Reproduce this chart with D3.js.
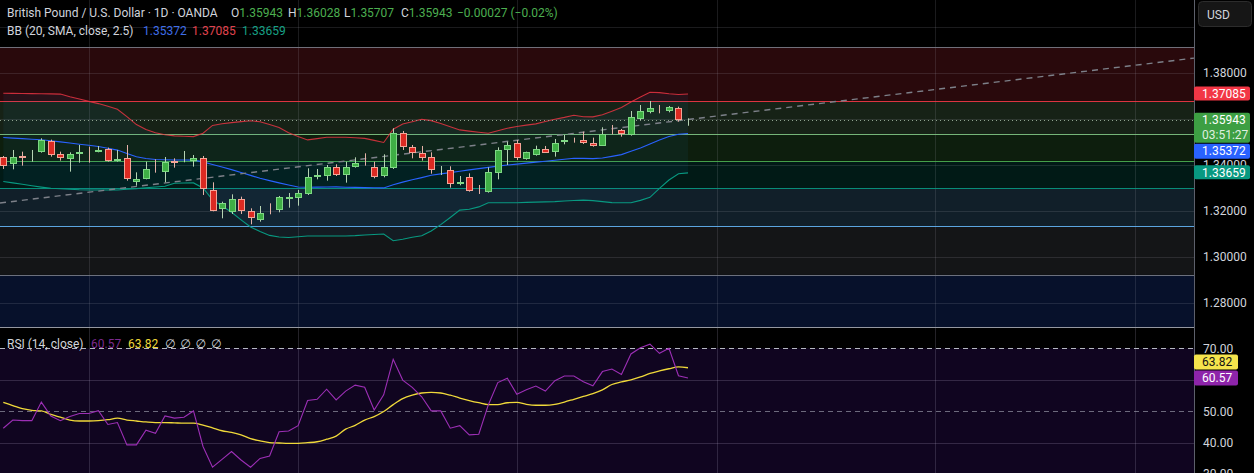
<!DOCTYPE html>
<html>
<head>
<meta charset="utf-8">
<script src="https://cdn.jsdelivr.net/npm/d3@7"></script>
<style>
    html, body { margin: 0; padding: 0; background: #000; }
    svg { display: block; font-family: Roboto, "Noto Sans", "DejaVu Sans", sans-serif; }
</style>
</head>
<body>
<svg id="chart" width="1254" height="473"></svg>
<script>
// ---- daily candles (GBP/USD, OANDA)
const opens = [1.34334,1.34030,1.34392,1.34290,1.34580,1.35044,1.34464,1.34247,1.34464,1.34609,
    1.34580,1.34696,1.34189,1.34290,1.33276,1.33406,1.33740,1.33711,1.34174,1.34131,
    1.34189,1.34290,1.32899,1.32073,1.31943,1.32508,1.31986,1.31609,1.32001,1.32044,
    1.32508,1.32580,1.32740,1.33464,1.33508,1.33899,1.33551,1.33928,1.34088,1.33899,
    1.33537,1.33856,1.35377,1.34798,1.34508,1.34334,1.33740,1.33769,1.33160,1.33464,
    1.32928,1.32841,1.33667,1.34653,1.34943,1.34261,1.34435,1.34696,1.34551,1.34986,
    1.35102,1.35088,1.34943,1.34841,1.35421,1.35522,1.35305,1.36001,1.36290,1.36392,
    1.36348,1.36493,1.35943];
const highs = [1.34392,1.34653,1.34580,1.34653,1.35160,1.35102,1.34580,1.34551,1.34870,1.34798,
    1.34827,1.34754,1.34653,1.34870,1.33682,1.34145,1.34247,1.34348,1.34290,1.34609,
    1.34435,1.34392,1.33247,1.32406,1.32725,1.32624,1.32117,1.32218,1.32334,1.32653,
    1.32783,1.32914,1.33856,1.33827,1.34001,1.34030,1.34145,1.34334,1.34508,1.34145,
    1.34464,1.35595,1.35479,1.34870,1.34827,1.34551,1.33957,1.33943,1.33522,1.33638,
    1.33131,1.33899,1.34769,1.35015,1.35088,1.34580,1.34841,1.34827,1.35131,1.35305,
    1.35189,1.35450,1.35189,1.35638,1.35740,1.35566,1.36348,1.36609,1.36783,1.36609,
    1.36566,1.36537,1.36028];
const lows = [1.33827,1.33812,1.33972,1.34145,1.34537,1.34363,1.34189,1.33711,1.34102,1.34102,
    1.34551,1.34145,1.34145,1.33319,1.33102,1.33377,1.33667,1.33247,1.33885,1.34117,
    1.33928,1.32696,1.31986,1.31682,1.31870,1.31870,1.31421,1.31537,1.31856,1.31943,
    1.32145,1.32232,1.32696,1.33377,1.33319,1.33522,1.33232,1.33885,1.33972,1.33421,
    1.33464,1.33827,1.34653,1.34290,1.34189,1.33624,1.33566,1.33015,1.33117,1.32841,
    1.32740,1.32798,1.33377,1.34001,1.34218,1.34232,1.34406,1.34522,1.34363,1.34899,
    1.34972,1.34914,1.34798,1.34827,1.35334,1.35232,1.35276,1.35957,1.36247,1.36247,
    1.36290,1.35885,1.35707];
const closes = [1.33943,1.34334,1.34290,1.34348,1.35102,1.34435,1.34290,1.34479,1.34551,1.34580,
    1.34653,1.34174,1.34261,1.33377,1.33392,1.33827,1.33682,1.34145,1.34073,1.34145,
    1.34305,1.32943,1.32015,1.32348,1.32508,1.32015,1.31682,1.31914,1.31972,1.32595,
    1.32609,1.32769,1.33464,1.33566,1.33914,1.33566,1.33914,1.34073,1.34059,1.33464,
    1.33914,1.35377,1.34798,1.34508,1.34290,1.33769,1.33754,1.33160,1.33247,1.32885,
    1.32899,1.33682,1.34653,1.34870,1.34319,1.34551,1.34696,1.34537,1.34943,1.35088,
    1.35088,1.34943,1.34841,1.35334,1.35406,1.35334,1.36073,1.36348,1.36464,1.36363,
    1.36522,1.35970,1.35943];

// ---- Bollinger Bands (20, SMA, close, 2.5)
const bbUpper = [1.37117,1.37113,1.37109,1.37104,1.37096,1.37091,1.37083,1.36970,1.36870,1.36765,
    1.36670,1.36552,1.36426,1.36104,1.35757,1.35539,1.35400,1.35317,1.35265,1.35248,
    1.35235,1.35383,1.35722,1.35791,1.35844,1.35887,1.35922,1.35883,1.35765,1.35635,
    1.35404,1.35235,1.35091,1.35148,1.35204,1.35204,1.35204,1.35187,1.35157,1.35070,
    1.34978,1.35557,1.35783,1.35883,1.35987,1.35930,1.35800,1.35665,1.35526,1.35474,
    1.35426,1.35383,1.35491,1.35596,1.35674,1.35735,1.35787,1.35891,1.35991,1.36070,
    1.36161,1.36096,1.36091,1.36187,1.36339,1.36500,1.36739,1.36957,1.37161,1.37148,
    1.37100,1.37065,1.37085];
const bbBasis = [1.35196,1.35170,1.35148,1.35122,1.35096,1.35052,1.35004,1.34957,1.34904,1.34857,
    1.34804,1.34730,1.34648,1.34504,1.34361,1.34283,1.34239,1.34226,1.34217,1.34217,
    1.34213,1.34135,1.34022,1.33917,1.33800,1.33674,1.33548,1.33422,1.33322,1.33222,
    1.33130,1.33043,1.33035,1.33039,1.33043,1.33048,1.33035,1.33026,1.33017,1.33009,
    1.33004,1.33139,1.33256,1.33356,1.33452,1.33557,1.33613,1.33670,1.33730,1.33787,
    1.33843,1.33896,1.33952,1.34000,1.34039,1.34083,1.34126,1.34165,1.34209,1.34252,
    1.34291,1.34287,1.34278,1.34304,1.34374,1.34452,1.34600,1.34735,1.34909,1.35087,
    1.35239,1.35339,1.35372];
const bbLower = [1.33283,1.33222,1.33161,1.33100,1.33039,1.32987,1.32965,1.32943,1.32922,1.32913,
    1.32913,1.32913,1.32913,1.32943,1.32974,1.33009,1.33043,1.33078,1.33204,1.33217,
    1.33222,1.33004,1.32487,1.32217,1.31943,1.31617,1.31304,1.31109,1.30939,1.30870,
    1.30848,1.30883,1.30913,1.30913,1.30913,1.30913,1.30913,1.30930,1.30957,1.30978,
    1.31000,1.30709,1.30774,1.30857,1.30926,1.31130,1.31409,1.31717,1.32039,1.32078,
    1.32178,1.32361,1.32361,1.32361,1.32361,1.32374,1.32387,1.32396,1.32409,1.32435,
    1.32457,1.32474,1.32452,1.32409,1.32365,1.32361,1.32361,1.32461,1.32596,1.32983,
    1.33348,1.33617,1.33659];

// ---- RSI (14, close) and its moving average
const rsiValues = [44.6,47.2,47.0,47.0,52.9,48.5,47.0,48.3,49.3,49.3,
    50.2,45.8,46.4,39.3,39.3,44.0,43.0,48.5,47.8,48.1,
    50.1,38.8,32.2,34.7,37.2,34.5,32.2,35.0,35.8,43.5,
    43.7,45.4,53.4,53.8,57.0,53.6,56.4,58.3,57.6,50.4,
    55.2,66.5,59.9,57.6,54.6,50.1,50.1,44.6,45.4,42.5,
    42.7,52.0,59.1,60.5,55.4,56.8,58.0,56.4,59.7,61.2,
    61.2,59.4,58.1,62.6,63.4,61.7,68.2,70.2,71.3,68.4,
    70.0,61.3,60.57];
const rsiMa = [52.8,51.8,50.8,50.3,50.1,49.0,48.1,47.2,46.9,46.9,
    47.0,47.3,47.8,47.2,46.9,46.6,46.4,46.4,46.3,46.2,
    46.2,45.6,44.7,43.8,43.3,42.5,41.3,40.6,40.0,39.9,
    39.8,39.8,40.0,40.3,41.1,42.1,44.3,45.5,47.2,48.3,
    49.9,52.1,54.0,55.1,55.8,56.0,55.8,55.1,54.2,53.4,
    52.7,52.1,52.1,52.7,52.8,52.2,51.9,51.9,52.2,52.9,
    53.8,54.7,55.6,56.8,58.5,59.3,60.0,60.9,62.0,62.8,
    63.5,64.1,63.82];

// ---- ticks, drawings
const priceTicks = [1.28, 1.30, 1.32, 1.34, 1.36, 1.38, 1.40];
const priceTickLabels = [1.28, 1.30, 1.32, 1.34, 1.36, 1.38];
const rsiTicks = [30, 40, 50, 60, 70];
const rsiDashed = [70, 50];
const monthStarts = [9, 31, 54, 75, 98, 119];   // bar index of each vertical grid line
const fibHigh = 1.3913, fibLow = 1.2922;
const fibRatios = [0, 0.236, 0.382, 0.5, 0.618, 0.786, 1, 1.618];
const trendPoints = [[0, 1.32365], [120, 1.38387]];
const lastPrice = 1.35943;
const countdown = "03:51:27";
const ohlcText = ["1.35943", "1.36028", "1.35707", "1.35943"];
const changeText = "\u22120.00027 (\u22120.02%)";
const emptyPlots = ["\u2205", "\u2205", "\u2205", "\u2205"];

// ---- layout
const W = 1254, H = 473;
const plotRight = 1194;
const priceBottom = 327;
const rsiTop = 328;
const fibColors = ["#787b86", "#f23645", "#81c784", "#4caf50", "#089981", "#64b5f6", "#787b86", "#2962ff"];
const upC = {fill: "#3fae45", stroke: "#7ed884", wick: "#b7d4b4"};
const downC = {fill: "#dc2a22", stroke: "#f4a497", wick: "#e6b2a8"};
const gridColor = "rgba(180,182,192,0.15)";

const svg = d3.select("#chart");
svg.append("rect").attr("width", W).attr("height", H).attr("fill", "#000");

const defs = svg.append("defs");
defs.append("clipPath").attr("id", "clipPrice")
    .append("rect").attr("x", 0).attr("y", 0).attr("width", plotRight).attr("height", priceBottom);
defs.append("clipPath").attr("id", "clipRsi")
    .append("rect").attr("x", 0).attr("y", rsiTop).attr("width", plotRight).attr("height", H - rsiTop);

const barCount = closes.length;
const x = d3.scaleLinear().domain([0, barCount - 1]).range([3.3, 688]);
const y = d3.scaleLinear().domain([1.28, 1.38]).range([303, 73]);
const yr = d3.scaleLinear().domain([40, 70]).range([442.7, 348.3]);
const idx = d3.range(barCount);

// ================= price pane
const pane = svg.append("g").attr("clip-path", "url(#clipPrice)");

// fibonacci zones
const fibPrice = r => fibHigh - r * (fibHigh - fibLow);
pane.append("g").selectAll("rect")
    .data(fibRatios.slice(1))
    .enter().append("rect")
    .attr("x", 0)
    .attr("width", plotRight)
    .attr("y", (d, i) => y(fibPrice(fibRatios[i])))
    .attr("height", (d, i) => y(fibPrice(d)) - y(fibPrice(fibRatios[i])))
    .attr("fill", (d, i) => fibColors[i + 1])
    .attr("fill-opacity", 0.17);

// grid
pane.append("g").selectAll("line")
    .data(priceTicks)
    .enter().append("line")
    .attr("x1", 0).attr("x2", plotRight)
    .attr("y1", d => Math.round(y(d)) + 0.5).attr("y2", d => Math.round(y(d)) + 0.5)
    .attr("stroke", gridColor);
pane.append("g").selectAll("line")
    .data(monthStarts)
    .enter().append("line")
    .attr("x1", d => Math.round(x(d)) + 0.5).attr("x2", d => Math.round(x(d)) + 0.5)
    .attr("y1", 0).attr("y2", priceBottom)
    .attr("stroke", gridColor);

// fibonacci level lines
pane.append("g").selectAll("line")
    .data(fibRatios)
    .enter().append("line")
    .attr("x1", 0).attr("x2", plotRight)
    .attr("y1", d => Math.round(y(fibPrice(d))) + 0.5)
    .attr("y2", d => Math.round(y(fibPrice(d))) + 0.5)
    .attr("stroke", (d, i) => fibColors[i])
    .attr("stroke-opacity", 0.9);

// bollinger fill + lines
pane.append("path")
    .datum(idx)
    .attr("d", d3.area().x(i => x(i)).y0(i => y(bbLower[i])).y1(i => y(bbUpper[i])))
    .attr("fill", "rgba(33,150,243,0.06)");
[[bbUpper, "#f23645", 0.8], [bbBasis, "#2962ff", 1], [bbLower, "#089981", 1]].forEach(function (b) {
    pane.append("path")
        .datum(idx)
        .attr("d", d3.line().x(i => x(i)).y(i => y(b[0][i])))
        .attr("fill", "none")
        .attr("stroke", b[1])
        .attr("stroke-opacity", b[2])
        .attr("stroke-width", 1.1);
});

// trend line, extended both ways
let tx1 = x(trendPoints[0][0]), ty1 = y(trendPoints[0][1]);
let tx2 = x(trendPoints[1][0]), ty2 = y(trendPoints[1][1]);
let slope = (ty2 - ty1) / (tx2 - tx1);
pane.append("line")
    .attr("x1", 0).attr("y1", ty1 - slope * tx1)
    .attr("x2", plotRight).attr("y2", ty1 + slope * (plotRight - tx1))
    .attr("stroke", "#7d8089")
    .attr("stroke-width", 1.4)
    .attr("stroke-dasharray", "6,5");

// last price dotted line
pane.append("line")
    .attr("x1", 0).attr("x2", plotRight)
    .attr("y1", Math.round(y(lastPrice)) + 0.5).attr("y2", Math.round(y(lastPrice)) + 0.5)
    .attr("stroke", "#8fa38f")
    .attr("stroke-dasharray", "1,3");

// candles
let candles = pane.append("g").selectAll("g")
    .data(idx)
    .enter().append("g");
candles.append("line")
    .attr("x1", i => Math.round(x(i)) + 0.5).attr("x2", i => Math.round(x(i)) + 0.5)
    .attr("y1", i => y(highs[i])).attr("y2", i => y(lows[i]))
    .attr("stroke", i => closes[i] >= opens[i] ? upC.wick : downC.wick);
candles.append("rect")
    .attr("x", i => Math.round(x(i)) - 3 + 0.5)
    .attr("width", 6)
    .attr("y", i => Math.round(y(Math.max(opens[i], closes[i]))) + 0.5)
    .attr("height", i => Math.max(0, Math.round(y(Math.min(opens[i], closes[i]))) - Math.round(y(Math.max(opens[i], closes[i]))) - 1))
    .attr("fill", i => closes[i] >= opens[i] ? upC.fill : downC.fill)
    .attr("stroke", i => closes[i] >= opens[i] ? upC.stroke : downC.stroke);

// header legend
let legend = svg.append("g").style("font-size", "12px");
legend.append("text").attr("x", 7).attr("y", 17).attr("fill", "#d1d4dc")
    .text("British Pound / U.S. Dollar \u00b7 1D \u00b7 OANDA");
["O", "H", "L", "C"].forEach(function (k, i) {
    let t = legend.append("text").attr("x", [231, 288, 344, 401][i]).attr("y", 17);
    t.append("tspan").attr("fill", "#d1d4dc").text(k);
    t.append("tspan").attr("fill", "#4caf50").text(ohlcText[i]);
});
legend.append("text").attr("x", 457).attr("y", 17).attr("fill", "#4caf50").text(changeText);
legend.append("text").attr("x", 7).attr("y", 35).attr("fill", "#d1d4dc").text("BB (20, SMA, close, 2.5)");
[[bbBasis, "#3f6ee8", 143], [bbUpper, "#e0434e", 192], [bbLower, "#17a086", 242]].forEach(function (b) {
    legend.append("text").attr("x", b[2]).attr("y", 35).attr("fill", b[1])
        .text(d3.format(".5f")(b[0][barCount - 1]));
});

// ================= RSI pane
const rp = svg.append("g").attr("clip-path", "url(#clipRsi)");
rp.append("rect")
    .attr("x", 0).attr("width", plotRight)
    .attr("y", yr(70)).attr("height", H - yr(70))
    .attr("fill", "#100520");
rp.append("g").selectAll("line")
    .data(rsiTicks.filter(d => rsiDashed.indexOf(d) < 0))
    .enter().append("line")
    .attr("x1", 0).attr("x2", plotRight)
    .attr("y1", d => Math.round(yr(d)) + 0.5).attr("y2", d => Math.round(yr(d)) + 0.5)
    .attr("stroke", "rgba(180,170,200,0.22)");
rp.append("g").selectAll("line")
    .data(monthStarts)
    .enter().append("line")
    .attr("x1", d => Math.round(x(d)) + 0.5).attr("x2", d => Math.round(x(d)) + 0.5)
    .attr("y1", rsiTop).attr("y2", H)
    .attr("stroke", "rgba(180,170,200,0.2)");
rp.append("g").selectAll("line")
    .data(rsiDashed)
    .enter().append("line")
    .attr("x1", 0).attr("x2", plotRight)
    .attr("y1", d => Math.round(yr(d)) + 0.5).attr("y2", d => Math.round(yr(d)) + 0.5)
    .attr("stroke", d => d === 70 ? "#b5b8c1" : "rgba(150,150,165,0.7)")
    .attr("stroke-dasharray", "5,4");
rp.append("path")
    .datum(idx)
    .attr("d", d3.line().x(i => x(i)).y(i => yr(rsiMa[i])).curve(d3.curveMonotoneX))
    .attr("fill", "none").attr("stroke", "#f0d93a").attr("stroke-width", 1.3);
rp.append("path")
    .datum(idx)
    .attr("d", d3.line().x(i => x(i)).y(i => yr(rsiValues[i])))
    .attr("fill", "none").attr("stroke", "#9c2fb5").attr("stroke-width", 1.1);

let rsiLegend = svg.append("g").style("font-size", "12px");
rsiLegend.append("text").attr("x", 7).attr("y", 348).attr("fill", "#d1d4dc").text("RSI (14, close)");
rsiLegend.append("text").attr("x", 91).attr("y", 348).attr("fill", "#7b2a8e")
    .text(d3.format(".2f")(rsiValues[barCount - 1]));
rsiLegend.append("text").attr("x", 128).attr("y", 348).attr("fill", "#f0d93a")
    .text(d3.format(".2f")(rsiMa[barCount - 1]));
rsiLegend.selectAll(".empty")
    .data(emptyPlots)
    .enter().append("text").attr("class", "empty")
    .attr("x", (d, i) => 165 + i * 15.3).attr("y", 348)
    .attr("fill", "#d1d4dc")
    .text(d => d);

// pane separator
svg.append("line")
    .attr("x1", 0).attr("x2", W).attr("y1", priceBottom + 0.5).attr("y2", priceBottom + 0.5)
    .attr("stroke", "#9598a1");

// ================= right axis
let axis = svg.append("g").style("font-size", "12px");
axis.append("rect").attr("x", plotRight).attr("y", 0).attr("width", W - plotRight).attr("height", H).attr("fill", "#000");
axis.append("line")
    .attr("x1", plotRight + 0.5).attr("x2", plotRight + 0.5).attr("y1", 0).attr("y2", H)
    .attr("stroke", "#5d606b");
axis.selectAll(".ptick")
    .data(priceTickLabels)
    .enter().append("text").attr("class", "ptick")
    .attr("x", 1203).attr("y", d => y(d) + 4.3)
    .attr("fill", "#d1d4dc")
    .text(d => d3.format(".5f")(d));
axis.selectAll(".rtick")
    .data(rsiTicks)
    .enter().append("text").attr("class", "rtick")
    .attr("x", 1203).attr("y", d => yr(d) + 4.3)
    .attr("fill", "#d1d4dc")
    .text(d => d3.format(".2f")(d));

// value badges, first one keeps its place, the rest get pushed away
function placeBadges(list) {
    let placed = [];
    list.forEach(function (b) {
        b.top = b.center - 7.5;
        placed.forEach(function (p) {
            let bottom = b.top + b.h;
            if (b.top < p.top + p.h + 1 && bottom > p.top - 1) {
                if (b.center >= p.center) b.top = p.top + p.h + 1;
                else b.top = p.top - 1 - b.h;
            }
        });
        placed.push(b);
    });
    return placed;
}
function drawBadges(list, width) {
    list.forEach(function (b) {
        axis.append("rect")
            .attr("x", plotRight).attr("y", b.top)
            .attr("width", width).attr("height", b.h)
            .attr("rx", 2).attr("fill", b.fill);
        b.lines.forEach(function (t, k) {
            axis.append("text")
                .attr("x", 1202).attr("y", b.top + 11.5 + k * 14.5)
                .attr("fill", k === 0 ? b.color : "rgba(255,255,255,0.85)")
                .text(t);
        });
    });
}
drawBadges(placeBadges([
    {center: y(lastPrice), h: 30, fill: "#3d9f43", color: "#fff", lines: [d3.format(".5f")(lastPrice), countdown]},
    {center: y(bbUpper[barCount - 1]), h: 14, fill: "#f23645", color: "#fff", lines: [d3.format(".5f")(bbUpper[barCount - 1])]},
    {center: y(bbBasis[barCount - 1]), h: 15, fill: "#2962ff", color: "#fff", lines: [d3.format(".5f")(bbBasis[barCount - 1])]},
    {center: y(bbLower[barCount - 1]), h: 14, fill: "#089981", color: "#fff", lines: [d3.format(".5f")(bbLower[barCount - 1])]}
]), 56);
drawBadges(placeBadges([
    {center: yr(rsiValues[barCount - 1]), h: 15, fill: "#8e24aa", color: "#fff", lines: [d3.format(".2f")(rsiValues[barCount - 1])]},
    {center: yr(rsiMa[barCount - 1]), h: 15, fill: "#f5e44c", color: "#131313", lines: [d3.format(".2f")(rsiMa[barCount - 1])]}
]), 44);

// currency button
axis.append("rect")
    .attr("x", 1198.5).attr("y", 1.5).attr("width", 53).attr("height", 25).attr("rx", 4)
    .attr("fill", "#161616").attr("stroke", "#2c2c2c");
axis.append("text").attr("x", 1207).attr("y", 18.5).attr("fill", "#d1d4dc").text("USD");
</script>
</body>
</html>
